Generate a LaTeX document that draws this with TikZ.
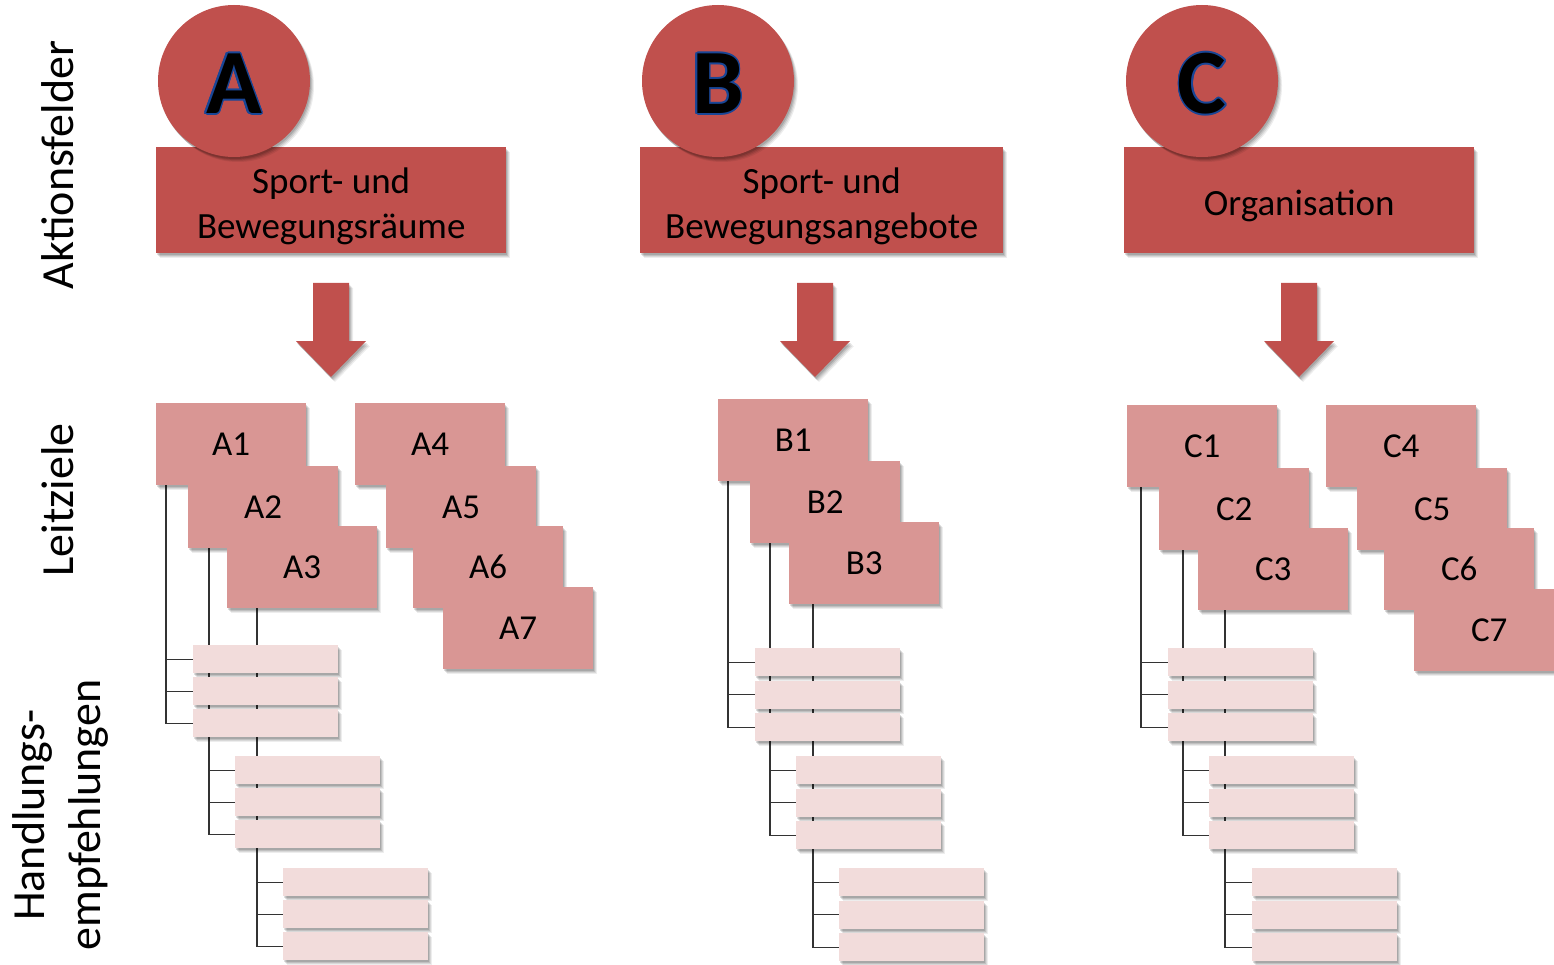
\documentclass[tikz,border=0pt]{standalone}
\usepackage{fontspec}
\setmainfont{Carlito}
\usepackage{contour}
\usetikzlibrary{shadows}
\definecolor{hdrred}{HTML}{C0504D}
\definecolor{lzred}{HTML}{D99694}
\definecolor{hbpink}{HTML}{F2DCDB}
\definecolor{outl}{RGB}{25,70,150}
\contourlength{1.6pt}
\pgfdeclarelayer{background}
\pgfsetlayers{background,main}
\newcommand{\hstrut}{\rule{0pt}{37pt}}
\tikzset{
 shd/.style={
   general shadow={shadow xshift=4pt,shadow yshift=-5pt,opacity=0.07,fill=black},
   general shadow={shadow xshift=3pt,shadow yshift=-4pt,opacity=0.09,fill=black},
   general shadow={shadow xshift=2pt,shadow yshift=-3pt,opacity=0.11,fill=black},
   general shadow={shadow xshift=1pt,shadow yshift=-2pt,opacity=0.13,fill=black}},
 hdr/.style={rectangle,fill=hdrred,anchor=north west,inner sep=0pt,minimum height=106pt,align=center,font=\fontsize{37}{45}\selectfont,shd},
 circ/.style={circle,fill=hdrred,minimum size=152pt,inner sep=0pt,text height=65pt,text depth=0pt,font=\fontsize{92}{92}\selectfont\bfseries,shd},
 lz/.style={rectangle,fill=lzred,anchor=north west,minimum width=150pt,minimum height=82pt,inner sep=0pt,font=\fontsize{35}{40}\selectfont,shd},
 hb/.style={rectangle,fill=hbpink,anchor=north west,minimum width=145pt,minimum height=28pt,inner sep=0pt,shd},
 tree/.style={draw=black!80,line width=1.3pt},
 blockarrow/.style={fill=hdrred,shd},
 side/.style={rotate=90,font=\fontsize{46}{56}\selectfont,align=center}
}
\begin{document}
\begin{tikzpicture}[x=1pt,y=-1pt]
\useasboundingbox (0,0) rectangle (1554,965);
% side labels
\node[side] (sAkt) at (58,165) {Aktionsfelder};
\node[side] (sLz) at (58,500) {Leitziele};
\node[side] (sHe) at (60,815) {Handlungs-\\empfehlungen};
% headers
\node[hdr,minimum width=350pt] (hA) at (156,147) {\hstrut Sport- und\\Bewegungsräume};
\node[hdr,minimum width=363pt] (hB) at (640,147) {\hstrut Sport- und\\Bewegungsangebote};
\node[hdr,minimum width=350pt] (hC) at (1124,147) {\hstrut Organisation};
% circles
\node[circ] (cA) at (234,81) {\contour{outl}{A}};
\node[circ] (cB) at (718,81) {\contour{outl}{B}};
\node[circ] (cC) at (1202,81) {\contour{outl}{C}};
% block arrows
\coordinate (arA) at (331,283);
\coordinate (arB) at (815,283);
\coordinate (arC) at (1299,283);
\foreach \ar in {arA,arB,arC}
  \fill[blockarrow] (\ar) ++(-18,0) -- ++(36,0) -- ++(0,58) -- ++(17,0) -- ++(-35,36) -- ++(-35,-36) -- ++(17,0) -- cycle;
% Leitziele A
\node[lz] (A1) at (156,403) {A1};
\node[lz] (A2) at (188,466) {A2};
\node[lz] (A3) at (227,526) {A3};
\node[lz] (A4) at (355,403) {A4};
\node[lz] (A5) at (386,466) {A5};
\node[lz] (A6) at (413,526) {A6};
\node[lz] (A7) at (443,587) {A7};
% Leitziele B
\node[lz] (B1) at (718,399) {B1};
\node[lz] (B2) at (750,461) {B2};
\node[lz] (B3) at (789,522) {B3};
% Leitziele C
\node[lz] (C1) at (1127,405) {C1};
\node[lz] (C2) at (1159,468) {C2};
\node[lz] (C3) at (1198,528) {C3};
\node[lz] (C4) at (1326,405) {C4};
\node[lz] (C5) at (1357,468) {C5};
\node[lz] (C6) at (1384,528) {C6};
\node[lz] (C7) at (1414,589) {C7};
% Handlungsempfehlungen
\foreach \g/\gx/\gy in {1/193/645, 2/235/756, 3/283/868}
  \foreach \k in {1,2,3}
    \node[hb] (a\g\k) at ({\gx},{\gy+32*(\k-1)}) {};
\foreach \g/\gx/\gy in {1/755/648, 2/796/756, 3/839/868}
  \foreach \k in {1,2,3}
    \node[hb] (b\g\k) at ({\gx},{\gy+32.5*(\k-1)}) {};
\foreach \g/\gx/\gy in {1/1168/648, 2/1209/756, 3/1252/868}
  \foreach \k in {1,2,3}
    \node[hb] (c\g\k) at ({\gx},{\gy+32.5*(\k-1)}) {};
% tree lines
\begin{pgfonlayer}{background}
\foreach \g/\src/\dx in {1/A1/10, 2/A2/21, 3/A3/30}
  \foreach \k in {1,2,3}
    \draw[tree] ([xshift=\dx pt]\src.south west) |- (a\g\k.west);
\foreach \g/\src/\dx in {1/B1/10, 2/B2/20, 3/B3/24}
  \foreach \k in {1,2,3}
    \draw[tree] ([xshift=\dx pt]\src.south west) |- (b\g\k.west);
\foreach \g/\src/\dx in {1/C1/14, 2/C2/24, 3/C3/27}
  \foreach \k in {1,2,3}
    \draw[tree] ([xshift=\dx pt]\src.south west) |- (c\g\k.west);
\end{pgfonlayer}
\end{tikzpicture}
\end{document}
